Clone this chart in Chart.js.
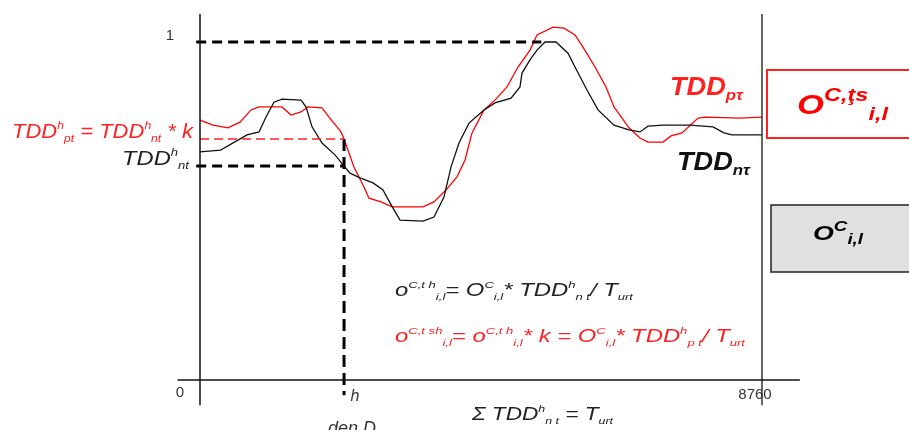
<!DOCTYPE html>
<html>
<head>
<meta charset="utf-8">
<script src="https://cdn.jsdelivr.net/npm/chart.js@4"></script>
<style>
  body { margin: 0; background: #fff; }
  canvas { display: block; }
</style>
</head>
<body>
<canvas id="chart" width="909" height="430"></canvas>
<script>
// ===== DATA =====
const ntHours = [0, 320, 733, 920, 1029, 1153, 1278, 1574, 1652, 1746, 1902, 2104, 2245, 2338, 2494, 2697, 2852, 2962, 3117, 3476, 3647, 3803, 3912, 4037, 4193, 4427, 4598, 4848, 4988, 5019, 5144, 5253, 5378, 5549, 5736, 5845, 6032, 6204, 6453, 6687, 6858, 6983, 7217, 7638, 7996, 8168, 8292, 8760];
const ntValues = [0.675, 0.68, 0.725, 0.734, 0.778, 0.822, 0.831, 0.828, 0.808, 0.749, 0.701, 0.666, 0.633, 0.612, 0.598, 0.583, 0.562, 0.524, 0.473, 0.47, 0.482, 0.541, 0.63, 0.701, 0.76, 0.799, 0.82, 0.834, 0.867, 0.908, 0.947, 0.976, 1.0, 1.0, 0.967, 0.926, 0.858, 0.799, 0.754, 0.74, 0.734, 0.751, 0.754, 0.754, 0.749, 0.731, 0.725, 0.725];

const ptHours = [0, 203, 436, 623, 795, 920, 1278, 1418, 1574, 1683, 1902, 2011, 2198, 2245, 2400, 2556, 2634, 2821, 2993, 3476, 3647, 3834, 4006, 4131, 4240, 4427, 4598, 4785, 4957, 5144, 5253, 5502, 5674, 5845, 5970, 6157, 6328, 6453, 6687, 6858, 6983, 7217, 7342, 7513, 7763, 7872, 8417, 8760];
const ptValues = [0.769, 0.754, 0.746, 0.763, 0.799, 0.808, 0.808, 0.784, 0.793, 0.808, 0.805, 0.778, 0.734, 0.713, 0.63, 0.571, 0.538, 0.527, 0.512, 0.512, 0.527, 0.562, 0.601, 0.651, 0.731, 0.799, 0.828, 0.867, 0.926, 0.976, 1.021, 1.044, 1.041, 1.021, 0.985, 0.926, 0.867, 0.808, 0.746, 0.716, 0.704, 0.704, 0.722, 0.731, 0.775, 0.778, 0.775, 0.778];

const hHour = 2245;          // hour h of day D
const peakHour = 5320;       // where the normalised curve reaches 1
const levelNt = 0.633;       // TDD^h_nt
const levelPt = 0.713;       // TDD^h_pt = TDD^h_nt * k

const xTickValues = [0, hHour, 8760];
const xTickLabels = ["0", "h", "8760"];
const yTickValues = [0, 1];
const yTickLabels = ["0", "1"];

// ===== HELPERS =====
function pts(xs, ys) {
    return xs.map((x, i) => ({ x: x, y: ys[i] }));
}

function line(data, color, width, dash) {
    return {
        data: data,
        borderColor: color,
        borderWidth: width,
        borderDash: dash || [],
        pointRadius: 0,
        fill: false,
        tension: 0
    };
}

// parts: [text, 0 normal | 1 sup | 2 sub]
function drawRich(ctx, x, y, parts, size, color, opts) {
    opts = opts || {};
    const weight = opts.bold ? "bold " : "";
    const family = "'Liberation Sans', Arial, sans-serif";
    const small = size * (opts.small || 0.7);
    const fontOf = k => "italic " + weight + (k ? small : size) + "px " + family;

    let width = 0;
    parts.forEach(p => { ctx.font = fontOf(p[1]); width += ctx.measureText(p[0]).width; });
    const sx = opts.width ? opts.width / width : 1;
    if (opts.align === "right") x -= width * sx;

    ctx.save();
    ctx.translate(x, y);
    ctx.scale(sx, 1);
    ctx.fillStyle = color;
    ctx.textBaseline = "alphabetic";
    ctx.textAlign = "left";
    let cx = 0;
    parts.forEach(p => {
        ctx.font = fontOf(p[1]);
        let dy = 0;
        if (p[1] === 1) dy = -size * 0.45;
        if (p[1] === 2) dy = size * 0.2;
        ctx.fillText(p[0], cx, dy);
        cx += ctx.measureText(p[0]).width;
    });
    ctx.restore();
}

// ===== ANNOTATIONS =====
const annotations = {
    id: "annotations",
    afterDatasetsDraw(chart) {
        const ctx = chart.ctx;
        const xs = chart.scales.x;
        const ys = chart.scales.y;
        ctx.save();

        // tick labels
        ctx.fillStyle = "#333";
        ctx.textAlign = "center";
        ctx.textBaseline = "middle";
        ctx.font = "15px 'Liberation Sans', Arial, sans-serif";
        ctx.fillText(yTickLabels[1], xs.getPixelForValue(0) - 30, ys.getPixelForValue(yTickValues[1]) - 6);
        ctx.fillText(yTickLabels[0], xs.getPixelForValue(0) - 20, ys.getPixelForValue(yTickValues[0]) + 13);
        ctx.fillText(xTickLabels[2], xs.getPixelForValue(xTickValues[2]) - 7, ys.getPixelForValue(0) + 15);
        ctx.font = "italic 16px 'Liberation Sans', Arial, sans-serif";
        ctx.fillText(xTickLabels[1], xs.getPixelForValue(xTickValues[1]) + 11, ys.getPixelForValue(0) + 17);
        ctx.font = "italic 18px 'Liberation Sans', Arial, sans-serif";
        ctx.fillText("den D", xs.getPixelForValue(xTickValues[1]) + 8, 429);

        // left labels
        drawRich(ctx, 193, 138, [["TDD", 0], ["h", 1], ["pt", 2], [" = TDD", 0], ["h", 1], ["nt", 2], [" * k", 0]], 21, "#ff2020", { align: "right", small: 0.55, width: 181 });
        drawRich(ctx, 189, 165, [["TDD", 0], ["h", 1], ["nt", 2]], 21, "#222", { align: "right", small: 0.55, width: 67 });

        // curve names
        drawRich(ctx, 670, 95, [["TDD", 0], ["p\u03C4", 2]], 25, "#ff2020", { bold: true, small: 0.62, width: 73 });
        drawRich(ctx, 677, 170, [["TDD", 0], ["n\u03C4", 2]], 25, "#111", { bold: true, small: 0.62, width: 73 });

        // formulas
        drawRich(ctx, 395, 296, [["o", 0], ["C,t h", 1], ["i,l", 2], ["= O", 0], ["C", 1], ["i,l", 2], ["* TDD", 0], ["h", 1], ["n t", 2], ["/ T", 0], ["urt", 2]], 18, "#222", { small: 0.55, width: 238 });
        drawRich(ctx, 395, 342, [["o", 0], ["C,t sh", 1], ["i,l", 2], ["= o", 0], ["C,t h", 1], ["i,l", 2], ["* k = O", 0], ["C", 1], ["i,l", 2], ["* TDD", 0], ["h", 1], ["p t", 2], ["/ T", 0], ["urt", 2]], 18, "#ff2020", { small: 0.55, width: 350 });
        drawRich(ctx, 472, 420, [["\u03A3 TDD", 0], ["h", 1], ["n t", 2], [" = T", 0], ["urt", 2]], 18, "#222", { small: 0.55, width: 141 });

        // boxes
        ctx.lineWidth = 2;
        ctx.strokeStyle = "#ff2020";
        ctx.fillStyle = "#fff";
        ctx.fillRect(767, 70, 150, 68);
        ctx.strokeRect(767, 70, 150, 68);
        drawRich(ctx, 797, 114, [["O", 0], ["C,\u0163s", 1], ["i,l", 2]], 28, "#ff0000", { bold: true, small: 0.68, width: 91 });

        ctx.lineWidth = 1.5;
        ctx.strokeStyle = "#222";
        ctx.fillStyle = "#e0e0e0";
        ctx.fillRect(771, 205, 150, 67);
        ctx.strokeRect(771, 205, 150, 67);
        drawRich(ctx, 813, 240, [["O", 0], ["C", 1], ["i,l", 2]], 21, "#000", { bold: true, small: 0.7, width: 50 });

        ctx.restore();
    }
};

// ===== CHART =====
const datasets = [
    line(pts([-350, 9350], [0, 0]), "#111", 1.5),
    line(pts([0, 0], [-0.075, 1.083]), "#111", 1.5),
    line(pts([8760, 8760], [-0.075, 1.083]), "#333", 1.5),
    line(pts([-60, peakHour], [1, 1]), "#000", 3, [10, 6]),
    line(pts([-60, hHour], [levelNt, levelNt]), "#000", 3, [10, 6]),
    line(pts([0, hHour], [levelPt, levelPt]), "#ff2020", 1.5, [9, 5]),
    line(pts([hHour, hHour], [levelPt, -0.045]), "#000", 3, [12, 6]),
    line(pts(ntHours, ntValues), "#111", 1.3),
    line(pts(ptHours, ptValues), "#ff0000", 1.3)
];

new Chart(document.getElementById("chart"), {
    type: "line",
    data: { datasets: datasets },
    options: {
        responsive: false,
        animation: false,
        layout: { padding: 0 },
        plugins: { legend: { display: false }, tooltip: { enabled: false } },
        scales: {
            x: { type: "linear", min: -3117.4, max: 11051.3, display: false },
            y: { type: "linear", min: -0.14793, max: 1.12426, display: false }
        }
    },
    plugins: [annotations]
});
</script>
</body>
</html>
